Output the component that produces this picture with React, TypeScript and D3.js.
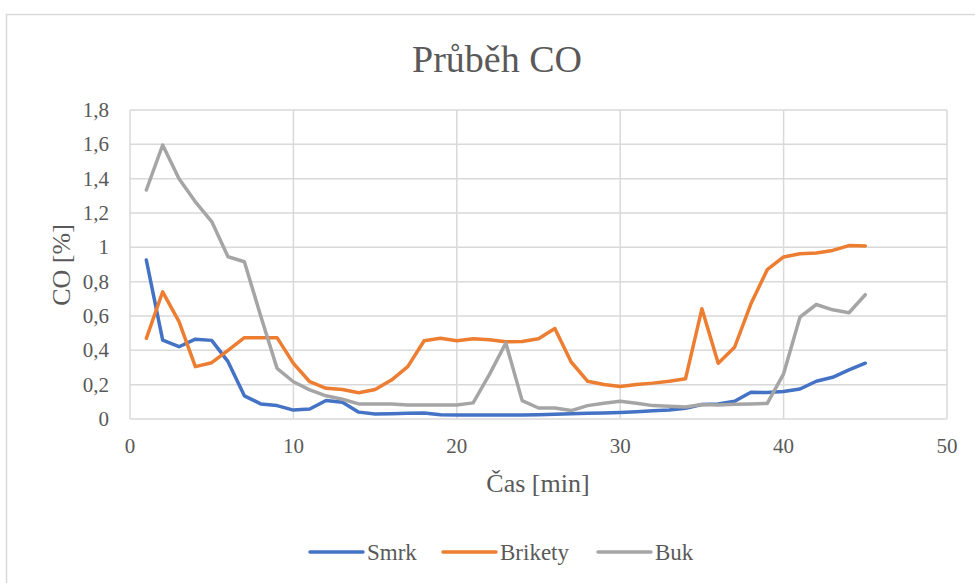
import React from "react";
import * as d3 from "d3";

const minutes = Array.from({ length: 45 }, (_, i) => i + 1);
const smrk = [0.926, 0.46, 0.421, 0.465, 0.458, 0.334, 0.135, 0.088, 0.078, 0.052, 0.058, 0.108, 0.098, 0.04, 0.029, 0.031, 0.033, 0.035, 0.025, 0.023, 0.024, 0.024, 0.024, 0.024, 0.025, 0.027, 0.03, 0.033, 0.035, 0.038, 0.042, 0.048, 0.052, 0.062, 0.084, 0.088, 0.103, 0.156, 0.154, 0.16, 0.175, 0.22, 0.243, 0.286, 0.325];
const brikety = [0.47, 0.741, 0.567, 0.305, 0.328, 0.4, 0.474, 0.474, 0.474, 0.324, 0.217, 0.179, 0.172, 0.153, 0.172, 0.227, 0.305, 0.456, 0.47, 0.456, 0.468, 0.461, 0.45, 0.452, 0.468, 0.527, 0.332, 0.22, 0.201, 0.189, 0.201, 0.209, 0.22, 0.235, 0.642, 0.325, 0.418, 0.671, 0.87, 0.944, 0.963, 0.967, 0.982, 1.01, 1.008];
const buk = [1.334, 1.596, 1.4, 1.265, 1.15, 0.945, 0.916, 0.6, 0.295, 0.217, 0.17, 0.135, 0.115, 0.088, 0.088, 0.088, 0.082, 0.082, 0.082, 0.082, 0.094, 0.26, 0.443, 0.107, 0.064, 0.064, 0.049, 0.078, 0.092, 0.103, 0.092, 0.078, 0.074, 0.07, 0.084, 0.082, 0.086, 0.088, 0.091, 0.263, 0.593, 0.667, 0.636, 0.619, 0.724];

const xTicks = [0, 10, 20, 30, 40, 50];
const yTicks = [0, 0.2, 0.4, 0.6, 0.8, 1, 1.2, 1.4, 1.6, 1.8];
const seriesNames = ["Smrk", "Brikety", "Buk"];
const seriesColors = ["#4472C4", "#ED7D31", "#A5A5A5"];
const seriesValues = [smrk, brikety, buk];

const FONT = "Liberation Serif";
const TEXT = "#595959";
const GRID = "#d9d9d9";

export default function App() {
  const x = d3.scaleLinear().domain([0, 50]).range([130, 947]);
  const y = d3.scaleLinear().domain([0, 1.8]).range([419, 110]);
  const line = d3
    .line<number>()
    .x((_, i) => x(minutes[i]))
    .y((d) => y(d));
  const fmt = (v: number) => (Math.round(v * 10) / 10).toString().replace(".", ",");
  const legendX = [310, 443, 598];
  const ts = { fontFamily: FONT };

  return (
    <svg
      width={975}
      height={583}
      style={{ position: "absolute", left: 0, top: 0, background: "#fff", fontFamily: FONT }}
    >
      <rect x={6.5} y={14.5} width={1000} height={600} fill="#fff" stroke={GRID} strokeWidth={1.5} />
      <text x={497} y={72} textAnchor="middle" fontSize={38} fill={TEXT} style={ts}>
        Průběh CO
      </text>
      {yTicks.map((t) => (
        <line key={"gy" + t} x1={x(0)} x2={x(50)} y1={y(t)} y2={y(t)} stroke={GRID} strokeWidth={1.5} />
      ))}
      {xTicks.map((t) => (
        <line key={"gx" + t} x1={x(t)} x2={x(t)} y1={y(0)} y2={y(1.8)} stroke={GRID} strokeWidth={1.5} />
      ))}
      {yTicks.map((t) => (
        <text key={"ty" + t} x={109} y={y(t) + 7} textAnchor="end" fontSize={21} fill={TEXT} style={ts}>
          {fmt(t)}
        </text>
      ))}
      {xTicks.map((t) => (
        <text key={"tx" + t} x={x(t)} y={453} textAnchor="middle" fontSize={21} fill={TEXT} style={ts}>
          {t}
        </text>
      ))}
      <text x={538} y={492} textAnchor="middle" fontSize={26} fill={TEXT} style={ts}>
        Čas [min]
      </text>
      <text transform={`translate(70,265) rotate(-90)`} textAnchor="middle" fontSize={26} fill={TEXT} style={ts}>
        CO [%]
      </text>
      {seriesValues.map((vals, i) => (
        <path
          key={seriesNames[i]}
          d={line(vals) || ""}
          fill="none"
          stroke={seriesColors[i]}
          strokeWidth={3.5}
          strokeLinejoin="round"
          strokeLinecap="round"
        />
      ))}
      {seriesNames.map((n, i) => (
        <g key={"lg" + n}>
          <line
            x1={legendX[i]}
            x2={legendX[i] + 53}
            y1={552}
            y2={552}
            stroke={seriesColors[i]}
            strokeWidth={3.5}
            strokeLinecap="round"
          />
          <text x={legendX[i] + 57} y={560} fontSize={23} fill={TEXT} style={ts}>
            {n}
          </text>
        </g>
      ))}
    </svg>
  );
}
